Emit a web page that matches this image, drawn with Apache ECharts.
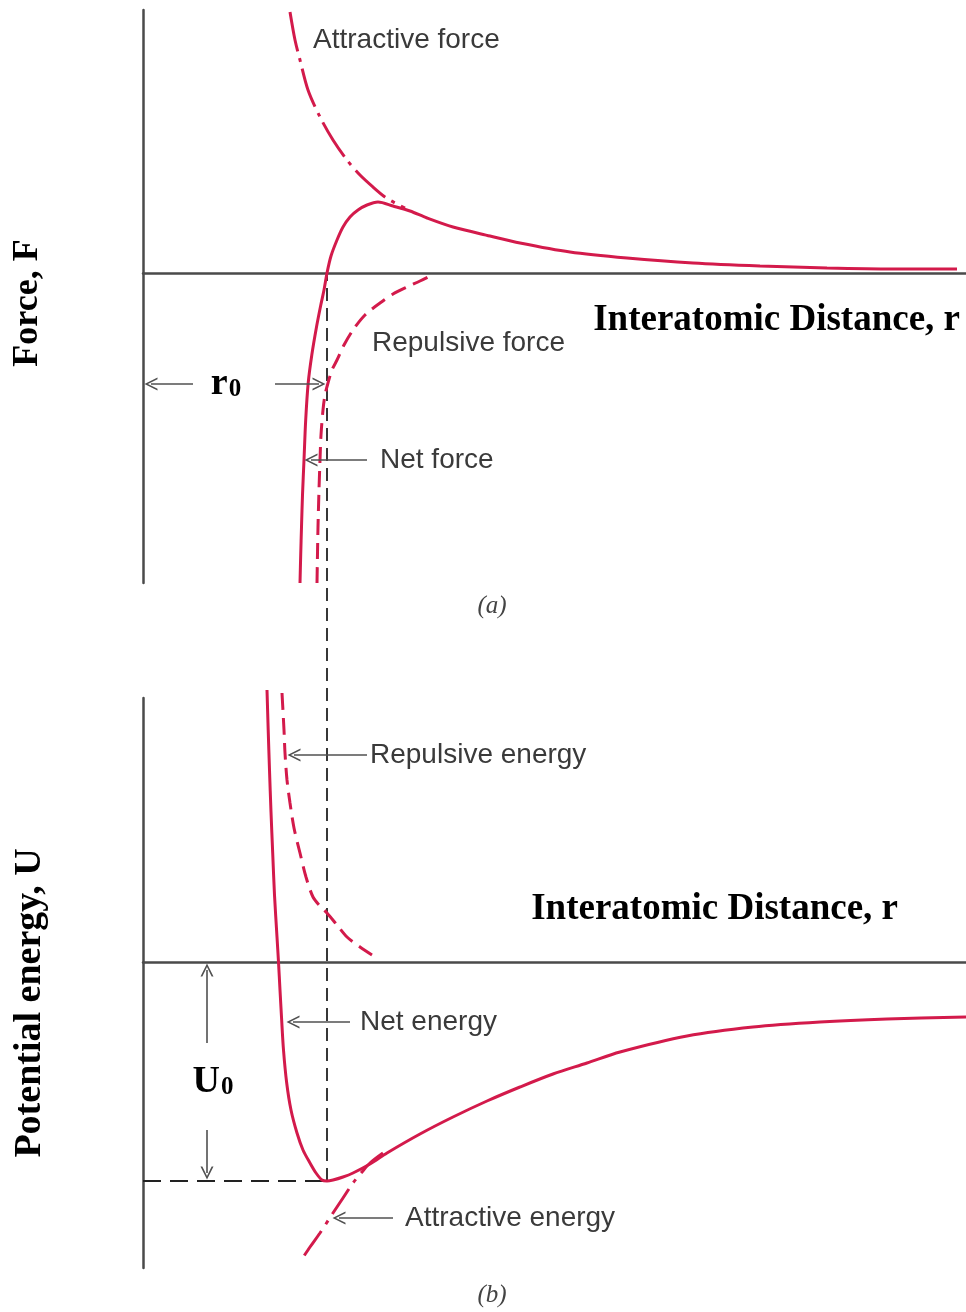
<!DOCTYPE html>
<html>
<head>
<meta charset="utf-8">
<style>
  html, body { margin: 0; padding: 0; background: #fff; }
  #chart { width: 966px; height: 1312px; }
</style>
<script src="https://cdn.jsdelivr.net/npm/echarts@6/dist/echarts.min.js"></script>
</head>
<body>
<div id="chart"></div>
<script>
// Interatomic distance r paired with force F or potential energy U (arbitrary units).

// (a) force vs. distance
const attractiveForce = [
  [1.47, 2.61], [1.52, 2.33], [1.57, 2.13], [1.65, 1.83], [1.77, 1.56], [1.90, 1.33],
  [2.04, 1.13], [2.17, 0.98], [2.30, 0.86], [2.42, 0.76], [2.52, 0.70], [2.62, 0.65]
];
const repulsiveForce = [
  [1.74, -3.10], [1.75, -2.54], [1.76, -2.17], [1.77, -1.87], [1.78, -1.62], [1.80, -1.37],
  [1.82, -1.22], [1.85, -1.10], [1.89, -0.97], [1.94, -0.87], [2.01, -0.72], [2.10, -0.57],
  [2.22, -0.42], [2.37, -0.30], [2.50, -0.21], [2.64, -0.14], [2.77, -0.08], [2.89, -0.02]
];
const netForce = [
  [1.57, -3.10], [1.577, -2.82], [1.585, -2.54], [1.595, -2.22], [1.61, -1.87], [1.627, -1.47],
  [1.652, -1.10], [1.688, -0.82], [1.735, -0.54], [1.778, -0.32], [1.81, -0.17], [1.84, 0.00],
  [1.88, 0.17], [1.94, 0.33], [2.00, 0.46], [2.07, 0.56], [2.15, 0.63], [2.24, 0.68],
  [2.35, 0.71], [2.50, 0.67], [2.67, 0.62], [2.84, 0.55], [3.10, 0.46], [3.47, 0.37],
  [3.77, 0.30], [4.27, 0.21], [4.84, 0.15], [5.50, 0.10], [6.17, 0.07], [6.84, 0.05],
  [7.50, 0.04], [8.14, 0.04]
];

// (b) potential energy vs. distance
const repulsiveEnergy = [
  [1.39, 2.69], [1.41, 2.32], [1.42, 2.09], [1.44, 1.82], [1.47, 1.59], [1.51, 1.34],
  [1.57, 1.09], [1.63, 0.85], [1.70, 0.65], [1.77, 0.56], [1.84, 0.49], [1.94, 0.37],
  [2.04, 0.25], [2.17, 0.15], [2.29, 0.07]
];
const attractiveEnergy = [
  [2.40, -1.91], [2.27, -2.01], [2.19, -2.10], [2.10, -2.21], [2.00, -2.36], [1.90, -2.51],
  [1.77, -2.71], [1.67, -2.85], [1.57, -3.00]
];
const netEnergy = [
  [1.24, 2.72], [1.252, 2.32], [1.265, 1.92], [1.28, 1.50], [1.297, 1.09], [1.315, 0.67],
  [1.34, 0.25], [1.355, 0.00], [1.37, -0.28], [1.385, -0.55], [1.405, -0.88], [1.437, -1.21],
  [1.48, -1.48], [1.54, -1.71], [1.60, -1.88], [1.67, -2.01], [1.73, -2.11], [1.79, -2.18],
  [1.84, -2.19], [1.90, -2.18], [2.00, -2.15], [2.10, -2.11], [2.27, -2.02], [2.44, -1.91],
  [2.77, -1.72], [3.10, -1.55], [3.44, -1.39], [3.77, -1.25], [4.10, -1.12], [4.44, -1.01],
  [4.77, -0.90], [5.44, -0.74], [6.10, -0.65], [6.77, -0.60], [7.44, -0.57], [8.23, -0.55]
];

// Equilibrium spacing r0 and bonding energy U0 (depth of the well)
const r0 = 1.84;
const U0 = -2.19;

// Axis ranges
const rRange = [0, 8.23];
const forceRange = [-3.10, 2.63];
const energyRange = [-3.06, 2.64];
// energy level that lines up with the F = 0 axis of the upper panel
const guideTop = 6.89;

// Styling
const RED = '#d31a4b';
const AXIS = '#4a4a4a';
const NOTE = '#3a3a3a';
const ARROW = 'path://M0,0 L6,11 L4.3,11 L0,2.9 L-4.3,11 L-6,11 Z';
const SANS = '"Liberation Sans", Arial, sans-serif';
const SERIF = '"Liberation Serif", "Times New Roman", serif';

function curve(name, data, gridIdx, dash) {
  return {
    name, type: 'line', data,
    xAxisIndex: gridIdx, yAxisIndex: gridIdx,
    smooth: 0.3,
    symbol: 'none', silent: true, clip: false,
    lineStyle: { color: RED, width: 3, type: dash, cap: 'butt' }
  };
}

function guide(data, gridIdx, dash, width) {
  return {
    type: 'line', data, xAxisIndex: gridIdx, yAxisIndex: gridIdx,
    symbol: 'none', silent: true, clip: false, z: 1,
    lineStyle: { color: '#222', width, type: dash }
  };
}

function notes(gridIdx, items, arrows) {
  return {
    type: 'scatter', xAxisIndex: gridIdx, yAxisIndex: gridIdx,
    symbolSize: 0, silent: true, z: 5,
    itemStyle: { opacity: 1 },
    data: items,
    label: {
      show: true, position: 'right', distance: 0, formatter: '{b}',
      fontFamily: SANS, fontSize: 28, color: NOTE
    },
    markLine: {
      silent: true, animation: false,
      symbol: ['none', ARROW], symbolSize: 13,
      label: { show: false },
      emphasis: { disabled: true },
      lineStyle: { color: '#505050', width: 1.6, type: 'solid', opacity: 1 },
      data: arrows.map(a => [{ coord: a[0] }, { coord: a[1] }])
    }
  };
}

const subLabel = {
  show: true, position: 'inside', color: '#000',
  rich: {
    m: { fontFamily: SERIF, fontWeight: 'bold', fontSize: 38, color: '#000' },
    s: { fontFamily: SERIF, fontWeight: 'bold', fontSize: 25, color: '#000', padding: [12, 0, 0, 1] }
  }
};

const axisNameStyle = { fontFamily: SERIF, fontWeight: 'bold', color: '#000' };

const chart = echarts.init(document.getElementById('chart'), null, { renderer: 'canvas' });

chart.setOption({
  animation: false,
  backgroundColor: '#fff',
  grid: [
    { left: 143, top: 10, width: 823, height: 573, outerBoundsMode: 'none' },
    { left: 143, top: 698, width: 823, height: 570, outerBoundsMode: 'none' }
  ],
  xAxis: [0, 1].map(i => ({
    type: 'value', gridIndex: i, min: rRange[0], max: rRange[1],
    axisLine: { show: true, onZero: true, lineStyle: { color: AXIS, width: 2.5 } },
    axisTick: { show: false }, axisLabel: { show: false }, splitLine: { show: false },
    name: 'Interatomic Distance, r',
    nameLocation: 'end',
    nameGap: i === 0 ? -6 : -68,
    nameTextStyle: Object.assign({
      fontSize: 37, align: 'right',
      verticalAlign: i === 0 ? 'top' : 'bottom',
      padding: i === 0 ? [29, 0, 0, 0] : [0, 0, 34, 0]
    }, axisNameStyle)
  })),
  yAxis: [
    {
      type: 'value', gridIndex: 0, min: forceRange[0], max: forceRange[1],
      axisLine: { show: true, onZero: false, lineStyle: { color: AXIS, width: 2.5 } },
      axisTick: { show: false }, axisLabel: { show: false }, splitLine: { show: false },
      name: 'Force, F', nameLocation: 'middle', nameRotate: 90, nameGap: 97,
      nameTextStyle: Object.assign({ fontSize: 36, padding: [0, 13, 0, 0] }, axisNameStyle)
    },
    {
      type: 'value', gridIndex: 1, min: energyRange[0], max: energyRange[1],
      axisLine: { show: true, onZero: false, lineStyle: { color: AXIS, width: 2.5 } },
      axisTick: { show: false }, axisLabel: { show: false }, splitLine: { show: false },
      name: 'Potential energy, U', nameLocation: 'middle', nameRotate: 90, nameGap: 94,
      nameTextStyle: Object.assign({ fontSize: 38, padding: [0, 40, 0, 0] }, axisNameStyle)
    }
  ],
  graphic: [
    { type: 'text', x: 492, y: 606, silent: true,
      style: { text: '(a)', fontFamily: SERIF, fontStyle: 'italic', fontSize: 25, fill: '#444', align: 'center', verticalAlign: 'middle' } },
    { type: 'text', x: 492, y: 1295, silent: true,
      style: { text: '(b)', fontFamily: SERIF, fontStyle: 'italic', fontSize: 25, fill: '#444', align: 'center', verticalAlign: 'middle' } }
  ],
  series: [
    // guide lines through r0 and U0
    guide([[r0, U0], [r0, guideTop]], 1, [13, 7], 1.8),
    guide([[rRange[0], U0], [r0, U0]], 1, [18, 9], 2.2),

    // (a) forces
    curve('Attractive force', attractiveForce, 0, [40, 7, 4, 7]),
    curve('Repulsive force', repulsiveForce, 0, [16, 8]),
    curve('Net force', netForce, 0, 'solid'),

    // (b) energies
    curve('Repulsive energy', repulsiveEnergy, 1, [17, 8]),
    curve('Attractive energy', attractiveEnergy, 1, [30, 8, 4, 8]),
    curve('Net energy', netEnergy, 1, 'solid'),

    // (a) annotations
    notes(0, [
      { name: 'Attractive force', value: [1.70, 2.33] },
      { name: 'Repulsive force', value: [2.29, -0.70] },
      { name: 'Net force', value: [2.37, -1.87] },
      { name: 'r0', value: [0.83, -1.11], label: Object.assign({ formatter: '{m|r}{s|0}' }, subLabel) }
    ], [
      [[2.24, -1.87], [1.68, -1.87]],
      [[0.50, -1.11], [0.08, -1.11]],
      [[1.32, -1.11], [1.76, -1.11]]
    ]),

    // (b) annotations
    notes(1, [
      { name: 'Repulsive energy', value: [2.27, 2.07] },
      { name: 'Net energy', value: [2.17, -0.60] },
      { name: 'Attractive energy', value: [2.62, -2.56] },
      { name: 'U0', value: [0.70, -1.20], label: Object.assign({ formatter: '{m|U}{s|0}' }, subLabel) }
    ], [
      [[2.24, 2.07], [1.51, 2.07]],
      [[2.07, -0.60], [1.50, -0.60]],
      [[2.50, -2.56], [1.96, -2.56]],
      [[0.64, -0.81], [0.64, -0.08]],
      [[0.64, -1.68], [0.64, -2.11]]
    ])
  ]
});
</script>
</body>
</html>
